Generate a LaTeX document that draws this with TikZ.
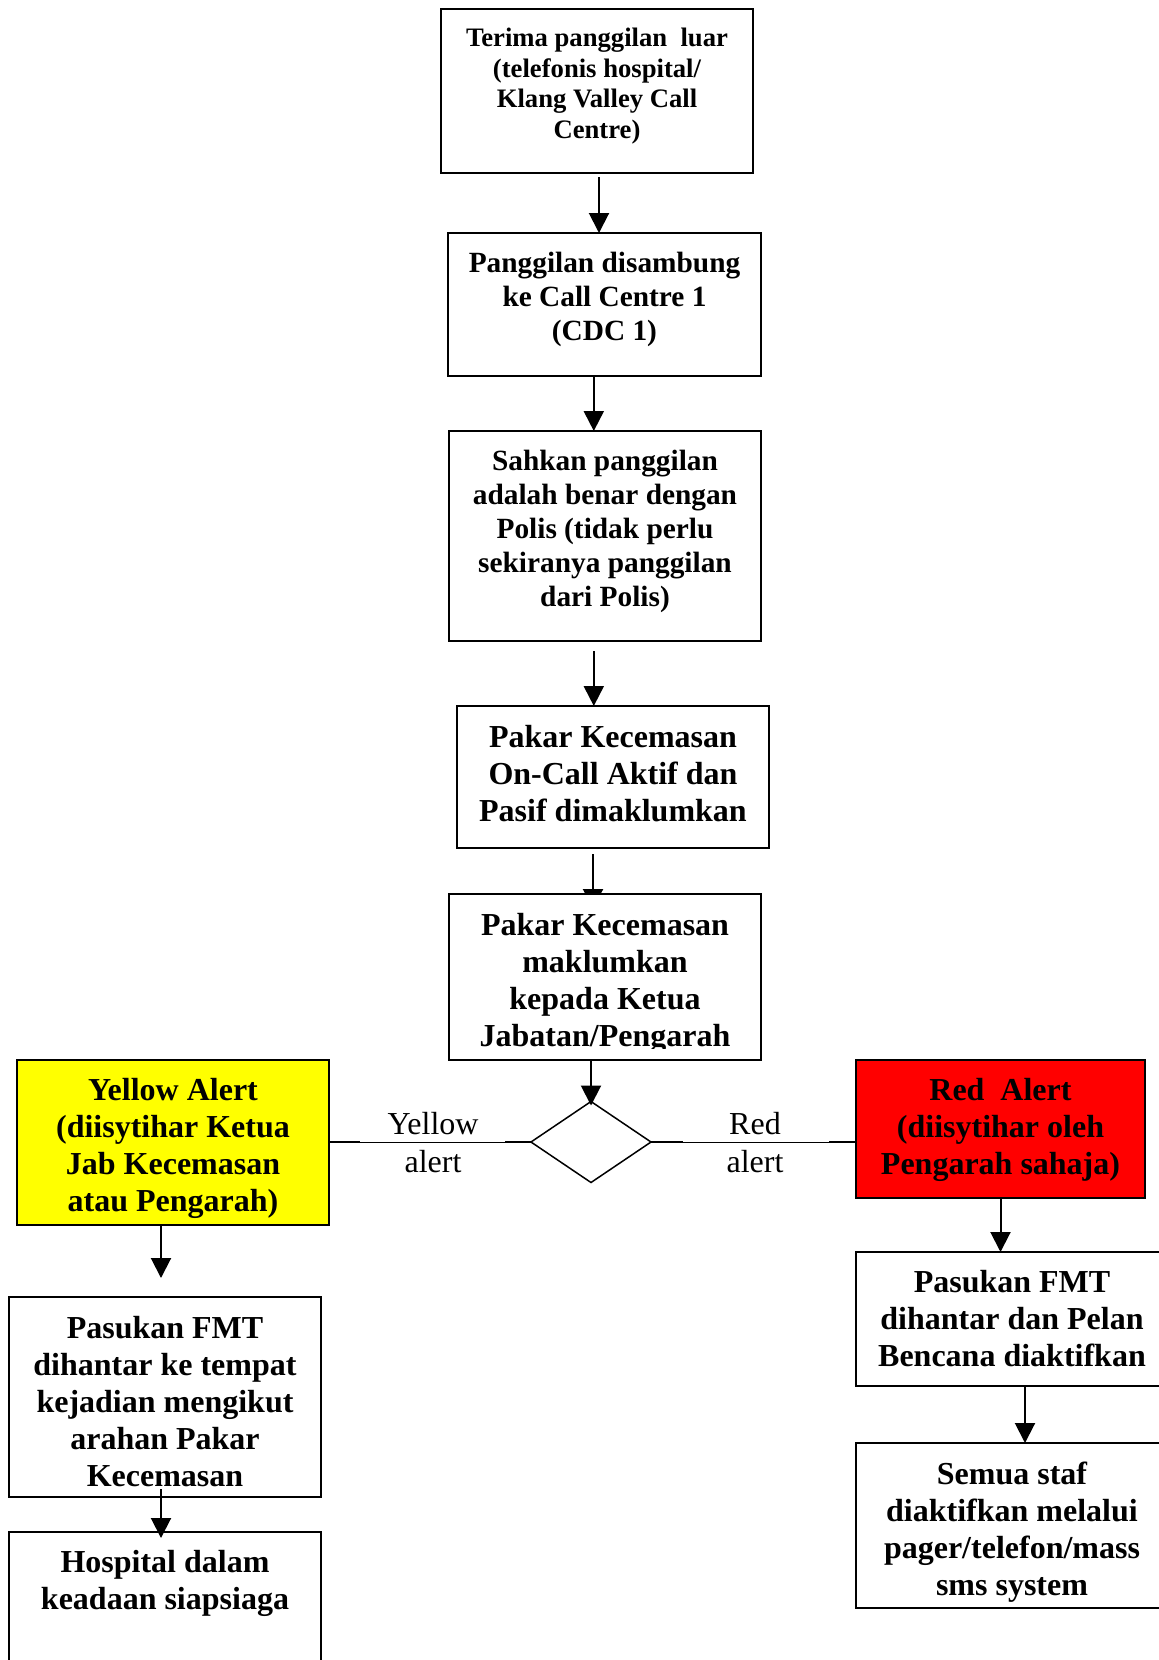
\documentclass[tikz,border=0pt]{standalone}
\usepackage{fontspec}
\setmainfont{Liberation Serif}
\usetikzlibrary{arrows.meta,shapes.geometric,calc,backgrounds}

\begin{document}
\begin{tikzpicture}[x=0.5pt,y=-0.5pt,
  box/.style={draw, line width=1.2pt, fill=white, inner sep=0pt, outer sep=0pt},
  txt/.style={align=center, inner sep=0pt, font=\bfseries\fontsize{16}{18.5}\selectfont},
  txtS/.style={txt, font=\bfseries\fontsize{13.33}{15.3}\selectfont},
  txtM/.style={txt, font=\bfseries\fontsize{14.67}{17}\selectfont},
  lbl/.style={align=center, inner sep=0pt, font=\fontsize{16}{19}\selectfont},
  arr/.style={line width=1pt, -{Triangle[length=10pt,width=10pt]}},
  link/.style={line width=0.5pt},
  stub/.style={line width=0.9pt},
  dec/.style={draw, diamond, line width=0.75pt, minimum width=60pt, minimum height=40.5pt, inner sep=0pt, outer sep=0pt}
]
\useasboundingbox (0,0) rectangle (1159,1660);
\begin{pgfonlayer}{background}
  \fill[white] (0,0) rectangle (1159,1660);
\end{pgfonlayer}
\clip (0,0) rectangle (1159,1660);

% main column
\node[box, minimum width=156pt, minimum height=82pt] (b1) at (597,91) {};
\node[txtS] (t1) at (597,86) {Terima panggilan\ \ luar\\(telefonis hospital/\\Klang Valley Call\\Centre)};

\node[box, minimum width=156.5pt, minimum height=71.5pt] (b2) at (604.5,304.5) {};
\node[txtM] (t2) at (604.5,299) {Panggilan disambung\\ke Call Centre 1\\(CDC 1)};

\node[box, minimum width=156pt, minimum height=105pt] (b3) at (605,536) {};
\node[txtM] (t3) at (605,531) {Sahkan panggilan\\adalah benar dengan\\Polis (tidak perlu\\sekiranya panggilan\\dari Polis)};

\node[box, minimum width=156pt, minimum height=71pt] (b4) at (613,777) {};
\node[txt] (t4) at (613,774) {Pakar Kecemasan\\On-Call Aktif dan\\Pasif dimaklumkan};

\node[box, minimum width=156pt, minimum height=83pt] (b5) at (605,977) {};
\begin{scope}
  \clip (449,894) rectangle (761,1048);
  \node[txt] (t5) at (605,983.5) {Pakar Kecemasan\\maklumkan\\kepada Ketua\\Jabatan/Pengarah};
\end{scope}

\node[dec] (d) at (591,1142) {};

% yellow branch
\node[box, fill={rgb,255:red,255;green,255;blue,0}, minimum width=156pt, minimum height=82.5pt] (ya) at (173,1142.5) {};
\node[txt] (tya) at (173,1148) {Yellow Alert\\(diisytihar Ketua\\Jab Kecemasan\\atau Pengarah)};

\node[box, minimum width=156pt, minimum height=100pt] (yf) at (165,1397) {};
\node[txt] (tyf) at (165,1402) {Pasukan FMT\\dihantar ke tempat\\kejadian mengikut\\arahan Pakar\\Kecemasan};

\node[box, minimum width=156pt, minimum height=94pt] (ho) at (165,1626) {};
\node[txt] (tho) at (165,1583.5) {Hospital dalam\\keadaan siapsiaga};

% red branch
\node[box, fill={rgb,255:red,255;green,0;blue,0}, minimum width=144.5pt, minimum height=69pt] (rd) at (1000.5,1129) {};
\node[txt] (trd) at (1000.5,1129.5) {Red\ \ Alert\\(diisytihar oleh\\Pengarah sahaja)};

\node[box, minimum width=156pt, minimum height=67pt] (rf) at (1012,1319) {};
\node[txt] (trf) at (1012,1319) {Pasukan FMT\\dihantar dan Pelan\\Bencana diaktifkan};

\node[box, minimum width=156pt, minimum height=82.5pt] (se) at (1012,1525.5) {};
\node[txt] (tse) at (1012,1532.5) {Semua staf\\diaktifkan melalui\\pager/telefon/mass\\sms system};

% arrows down the main column
\draw[arr] ($(b1.south)+(1pt,-2pt)$) -- ($(b2.north -| b1.south)+(1pt,0)$);
\draw[arr] ($(b2.south)+(-5.35pt,0)$) -- ($(b3.north -| b2.south)+(-5.35pt,0)$);
\draw[arr] ($(b3.south)+(-5.6pt,-5pt)$) -- ($(b4.north -| b3.south)+(-5.6pt,0)$);
\begin{pgfonlayer}{background}
  \draw[arr] ($(b4.south)+(-10pt,-3pt)$) -- ($(b5.north -| b4.south)+(-10pt,-7.5pt)$);
\end{pgfonlayer}
\draw[arr] (b5.south -| d.north) -- ($(d.north)+(0,-2pt)$);

% decision links
\draw[link] (ya.east |- d.west) -- (d.west);
\draw[link] (d.east) -- (d.east -| rd.west);
\draw[stub] (ya.east |- d.west) -- ++(31,0);
\draw[stub] (d.west) -- ++(-26,0);
\draw[stub] (d.east) -- ++(32,0);
\draw[stub] (d.east -| rd.west) -- ++(-27,0);
\node[lbl] (ly) at (433,1143) {Yellow\\alert};
\node[lbl] (lr) at (755,1143) {Red\\alert};

% branch arrows
\draw[arr] ($(ya.south)+(-6pt,0)$) -- ($(yf.north -| ya.south)+(-6pt,9.5pt)$);
\draw[arr] ($(yf.south)+(-2pt,4pt)$) -- ($(ho.north -| yf.south)+(-2pt,-3pt)$);
\draw[arr] (rd.south) -- (rf.north -| rd.south);
\draw[arr] ($(rf.south)+(6.5pt,0)$) -- ($(se.north -| rf.south)+(6.5pt,0)$);
\end{tikzpicture}
\end{document}
